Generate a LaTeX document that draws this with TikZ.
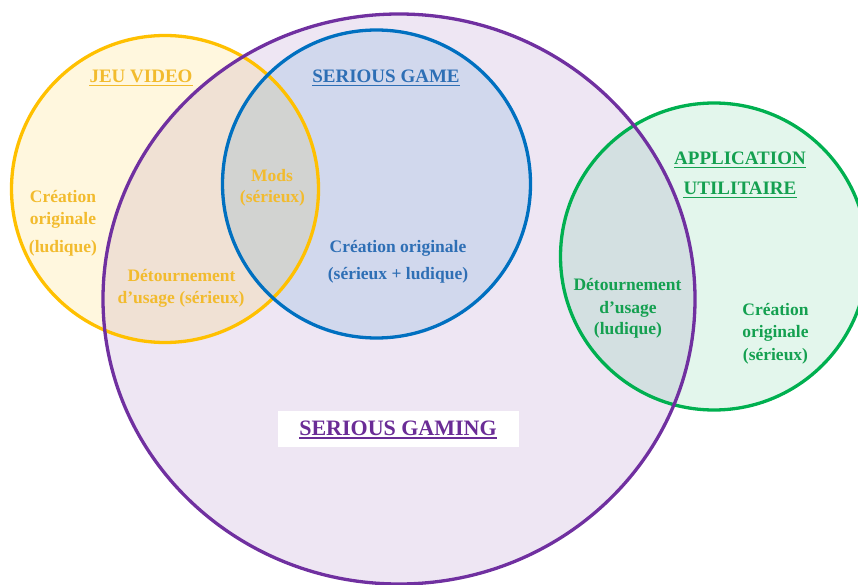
\documentclass[tikz,border=0pt]{standalone}
\usepackage{fontspec}
\setmainfont{Liberation Serif}
\definecolor{cpurple}{HTML}{7030A0}
\definecolor{cyellow}{HTML}{FFC000}
\definecolor{cblue}{HTML}{0070C0}
\definecolor{cgreen}{HTML}{00B050}
\definecolor{tyellow}{HTML}{F2BB2E}
\definecolor{tblue}{HTML}{2E6FB5}
\definecolor{tgreen}{HTML}{14A050}
\definecolor{tpurple}{HTML}{6A2C96}
\begin{document}
\begin{tikzpicture}[x=1pt,y=-1pt,
  lbl/.style={font=\bfseries\fontsize{17.5}{21}\selectfont, inner sep=0pt, anchor=base},
  head/.style={font=\bfseries\fontsize{19}{23}\selectfont, inner sep=0pt, anchor=base},
  ring/.style={line width=3.3pt},
  uline/.style={line width=1.4pt}]
\clip (0,0) rectangle (858,585);
% fills
\fill[cpurple, fill opacity=0.12] (399,299) ellipse [x radius=296pt, y radius=285pt];
\fill[cyellow, fill opacity=0.13] (165,189) circle [radius=153.5pt];
\fill[cblue, fill opacity=0.12] (376.5,184) circle [radius=154pt];
\fill[cgreen, fill opacity=0.11] (714,256.5) circle [radius=153.5pt];
% outlines
\draw[ring, cgreen] (714,256.5) circle [radius=153.5pt];
\draw[ring, cyellow] (165,189) circle [radius=153.5pt];
\draw[ring, cblue] (376.5,184) circle [radius=154pt];
\draw[ring, cpurple] (399,299) ellipse [x radius=296pt, y radius=285pt];
% headings
\node[head, text=tyellow] (jeu) at (141,83) {JEU VIDEO};
\draw[uline, tyellow] ([yshift=-2.6pt]jeu.base west) -- ([yshift=-2.6pt]jeu.base east);
\node[head, text=tblue] (sgame) at (386,83) {SERIOUS GAME};
\draw[uline, tblue] ([yshift=-2.6pt]sgame.base west) -- ([yshift=-2.6pt]sgame.base east);
\node[head, text=tgreen] (app) at (740,165) {APPLICATION};
\draw[uline, tgreen] ([yshift=-2.6pt]app.base west) -- ([yshift=-2.6pt]app.base east);
\node[head, text=tgreen] (util) at (740,195) {UTILITAIRE};
\draw[uline, tgreen] ([yshift=-2.6pt]util.base west) -- ([yshift=-2.6pt]util.base east);
\node[fill=white, minimum width=241pt, minimum height=36pt, inner sep=0pt] (gbox) at (398.5,429) {};
\node[head, font=\bfseries\fontsize{22}{26}\selectfont, text=tpurple] (gaming) at (398,435) {SERIOUS GAMING};
\draw[uline, tpurple] ([yshift=-2.8pt]gaming.base west) -- ([yshift=-2.8pt]gaming.base east);
% yellow labels
\node[lbl, text=tyellow] (yc1) at (63,203) {Création};
\node[lbl, text=tyellow] (yc2) at (63,225) {originale};
\node[lbl, text=tyellow] (yc3) at (63,252) {(ludique)};
\node[lbl, text=tyellow] (m1) at (272,182) {Mods};
\node[lbl, text=tyellow] (m2) at (272.5,203) {(sérieux)};
\node[lbl, text=tyellow] (yd1) at (181.5,281) {Détournement};
\node[lbl, text=tyellow] (yd2) at (181,303) {d’usage (sérieux)};
% blue labels
\node[lbl, text=tblue] (bc1) at (398,252) {Création originale};
\node[lbl, text=tblue] (bc2) at (398,279) {(sérieux + ludique)};
% green labels
\node[lbl, text=tgreen] (gd1) at (627.5,290) {Détournement};
\node[lbl, text=tgreen] (gd2) at (628,313) {d’usage};
\node[lbl, text=tgreen] (gd3) at (628,334) {(ludique)};
\node[lbl, text=tgreen] (gc1) at (775.5,315) {Création};
\node[lbl, text=tgreen] (gc2) at (775.5,337) {originale};
\node[lbl, text=tgreen] (gc3) at (775.5,360) {(sérieux)};
\end{tikzpicture}
\end{document}
